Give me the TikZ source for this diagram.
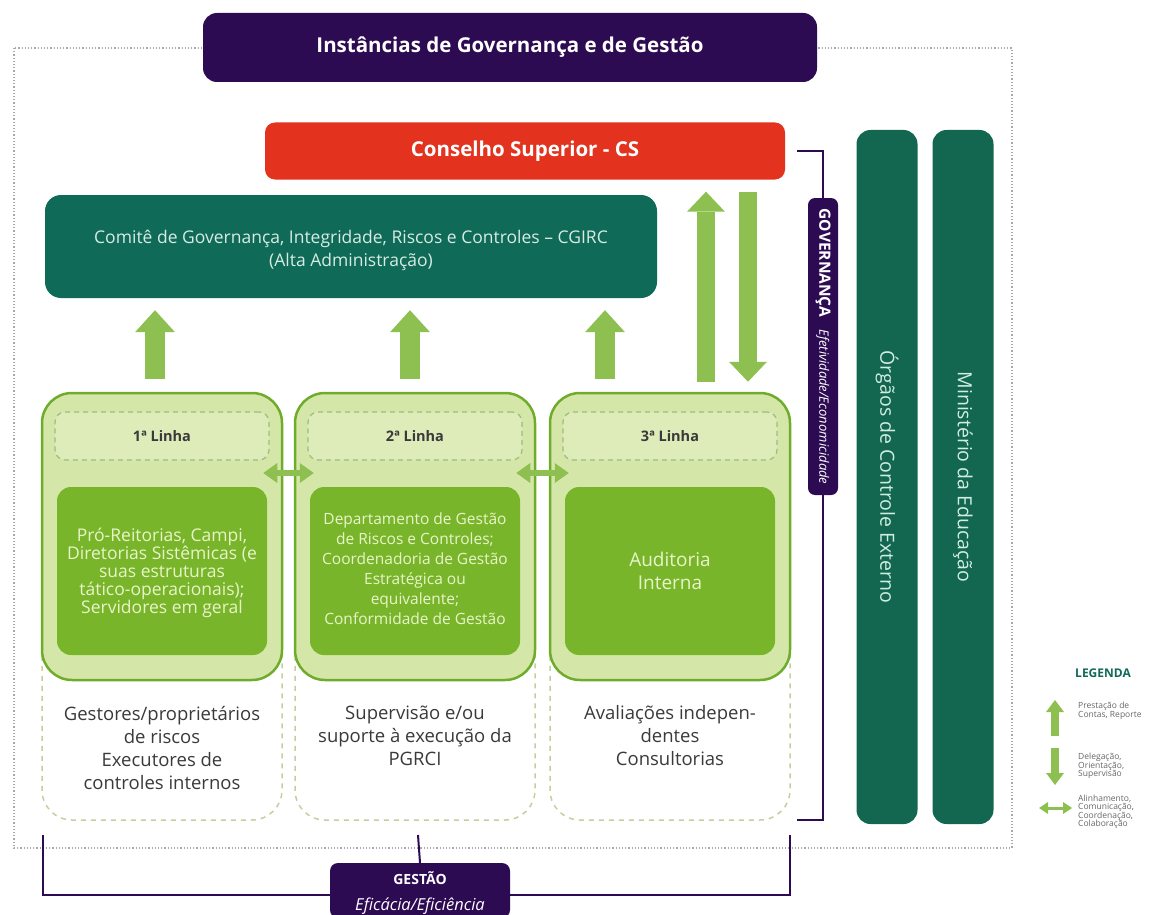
\documentclass[tikz,border=0pt]{standalone}
\usepackage{fontspec}
\setmainfont{Open Sans}
\usetikzlibrary{arrows.meta,calc}
\newcommand\myfs[2]{\fontsize{#1}{#2}\selectfont}
\definecolor{gpurple}{HTML}{2D0B52}
\definecolor{gred}{HTML}{E3321D}
\definecolor{gteal}{HTML}{106A58}
\definecolor{gcol}{HTML}{13664F}
\definecolor{garrow}{HTML}{8DC050}
\definecolor{glight}{HTML}{D5E7A8}
\definecolor{gborder}{HTML}{70AC2C}
\definecolor{ginner}{HTML}{79B52B}
\definecolor{ginnertext}{HTML}{E8F5C8}
\definecolor{gdash}{HTML}{A3B983}
\definecolor{gdashlow}{HTML}{C3D09E}
\definecolor{gtext}{HTML}{3A3A3A}
\definecolor{gcoltext}{HTML}{CFEDE0}
\definecolor{gcgtext}{HTML}{D6ECE4}
\definecolor{gframe}{HTML}{A8A8B0}
\begin{document}
\begin{tikzpicture}[x=1pt,y=-1pt,
  every node/.style={inner sep=0pt, align=center},
  pbox/.style={fill=gpurple, text=white},
  linebox/.style={fill=glight, draw=gborder, line width=2.5pt, rounded corners=30pt, minimum width=240pt, minimum height=287pt},
  lowdash/.style={draw=gdashlow, dashed, line width=1.5pt, dash pattern=on 5pt off 5pt, rounded corners=30pt, minimum width=240pt, minimum height=427pt},
  headbox/.style={fill=glight!80!white, draw=gdash, dashed, line width=1.2pt, dash pattern=on 5pt off 4pt, rounded corners=10pt, minimum width=214pt, minimum height=48pt, text=gtext, font=\bfseries\myfs{14.5}{17}},
  innerbox/.style={fill=ginner, rounded corners=14pt, minimum width=210pt, minimum height=168pt, text=ginnertext},
  lowtext/.style={text=gtext, font=\myfs{18.5}{23}},
  colbox/.style={fill=gcol, rounded corners=14pt, minimum width=61pt, minimum height=694pt},
  coltext/.style={text=gcoltext, font=\myfs{19.5}{22}, rotate=-90},
  brk/.style={draw=gpurple, line width=2pt},
  upar/.style={draw=garrow, line width=20pt, -{Triangle[width=40pt,length=22pt,line width=0pt]}},
  dblar/.style={draw=garrow, line width=6pt, {Triangle[width=20pt,length=14pt,line width=0pt]}-{Triangle[width=20pt,length=14pt,line width=0pt]}},
  legtext/.style={text=gray!80!black, font=\myfs{8.5}{8.5}, align=left, anchor=west}
]
\useasboundingbox (0,0) rectangle (1167,915);
% outer dotted frame
\draw[gframe, dotted, line width=1.2pt] (14,48) rectangle (1012,848);

% boxes that the brackets join
\node[pbox, rounded corners=7pt, minimum width=30pt, minimum height=297pt] (gov) at (823,346.5) {};
\node[pbox, rounded corners=8pt, minimum width=180pt, minimum height=55pt] (gestao) at (420,890.5) {};
\node[fill=gred, rounded corners=10pt, minimum width=520pt, minimum height=57pt, text=white, font=\bfseries\myfs{20.5}{24}] (cs) at (525,151) {Conselho Superior - CS};
\coordinate (gend) at (797,820);
\coordinate (gl) at (43,835);
\coordinate (gr) at (790,835);
\coordinate (gtop) at (418,835);
\draw[brk] ($(cs.east)+(12,0)$) -| (gov.north);
\draw[brk] (gov.south) |- (gend);
\draw[brk] (gl) |- ($(gestao.west)+(0,4)$);
\draw[brk] (gr) |- ($(gestao.east)+(0,4)$);
\draw[brk] (gestao.north) -- (gtop);

% governance / gestao text
\node[rotate=-90, text=white] at (gov.center) {\bfseries\myfs{15.5}{17}GOVERNANÇA\hspace{12pt}\itshape\mdseries\myfs{13}{15}Efetividade/Economicidade};
\node[text=white, font=\myfs{14}{26}] at ($(gestao.center)+(0,3)$) {\bfseries GESTÃO\\ \itshape\mdseries\fontsize{16.5}{26}\selectfont Eficácia/Eficiência};

% top box
\node[pbox, rounded corners=14pt, minimum width=614pt, minimum height=69pt, font=\bfseries\myfs{20.5}{24}] (inst) at (510,47.5) {Instâncias de Governança e de Gestão};

% CGIRC
\node[fill=gteal, rounded corners=16pt, minimum width=612pt, minimum height=103pt] (cgirc) at (351,246.5) {};
\node[text=gcgtext, font=\myfs{17.5}{23}] at ($(cgirc.center)+(0,4)$) {Comitê de Governança, Integridade, Riscos e Controles -- CGIRC\\(Alta Administração)};

% right columns
\node[colbox] (orgaos) at (887,477) {};
\node[coltext] at (orgaos.center) {Órgãos de Controle Externo};
\node[colbox] (mec) at (963,477) {};
\node[coltext] at (mec.center) {Ministério da Educação};

% lower dashed regions
\node[lowdash] (D1) at (162,606.5) {};
\node[lowdash] (D2) at (415,606.5) {};
\node[lowdash] (D3) at (670,606.5) {};

% line boxes
\node[linebox] (L1) at (162,536.5) {};
\node[linebox] (L2) at (415,536.5) {};
\node[linebox] (L3) at (670,536.5) {};

\node[headbox] (H1) at (162,436) {1ª Linha};
\node[headbox] (H2) at (415,436) {2ª Linha};
\node[headbox] (H3) at (670,436) {3ª Linha};

\node[innerbox] (I1) at (162,571) {};
\node[text=ginnertext, font=\myfs{17.5}{18}] at ($(I1.center)+(0,2)$) {Pró-Reitorias, Campi,\\Diretorias Sistêmicas (e\\suas estruturas\\tático-operacionais);\\Servidores em geral};
\node[innerbox] (I2) at (415,571) {};
\node[text=ginnertext, font=\myfs{15.5}{20}] at ($(I2.center)+(0,-2)$) {Departamento de Gestão\\de Riscos e Controles;\\Coordenadoria de Gestão\\Estratégica ou\\equivalente;\\Conformidade de Gestão};
\node[innerbox, font=\myfs{19}{23}] (I3) at (670,571) {Auditoria\\Interna};

\node[lowtext] (T1) at (162,748) {Gestores/proprietários\\de riscos\\Executores de\\controles internos};
\node[lowtext] (T2) at (415,736) {Supervisão e/ou\\suporte à execução da\\PGRCI};
\node[lowtext] (T3) at (670,736) {Avaliações indepen-\\dentes\\Consultorias};

% arrows lines -> CGIRC
\draw[upar] ($(L1.north)+(-7,-13)$) -- ($(L1.north |- cgirc.south)+(-7,12)$);
\draw[upar] ($(L2.north)+(-5,-13)$) -- ($(L2.north |- cgirc.south)+(-5,12)$);
\draw[upar] ($(L3.north)+(-65,-13)$) -- ($(L3.north |- cgirc.south)+(-65,12)$);
% CS arrows
\draw[upar, line width=18pt, -{Triangle[width=38pt,length=20pt,line width=0pt]}] ($(L3.north)+(36,-10)$) -- ($(L3.north |- cs.south)+(36,12)$);
\draw[upar, line width=18pt, -{Triangle[width=38pt,length=20pt,line width=0pt]}] ($(L3.north |- cs.south)+(78,12)$) -- ($(L3.north)+(78,-10)$);

% double arrows between lines
\draw[dblar] ($(L1.east)+(-20,-63.5)$) -- ($(L2.west)+(20,-63.5)$);
\draw[dblar] ($(L2.east)+(-20,-63.5)$) -- ($(L3.west)+(20,-63.5)$);

% legend
\node[text=gteal, font=\bfseries\myfs{12}{14}] (leg) at (1103,673) {LEGENDA};
\draw[draw=garrow, line width=8pt, -{Triangle[width=18pt,length=12pt,line width=0pt]}] (1055,736) -- (1055,700);
\node[legtext] at (1078,711) {Prestação de\\Contas, Reporte};
\draw[draw=garrow, line width=8pt, -{Triangle[width=18pt,length=12pt,line width=0pt]}] (1055,748) -- (1055,785);
\node[legtext] at (1078,766) {Delegação,\\Orientação,\\Supervisão};
\draw[draw=garrow, line width=3pt, {Triangle[width=12pt,length=9pt,line width=0pt]}-{Triangle[width=12pt,length=9pt,line width=0pt]}] (1039,808) -- (1072,808);
\node[legtext] at (1078,812) {Alinhamento,\\Comunicação,\\Coordenação,\\Colaboração};
\end{tikzpicture}
\end{document}
